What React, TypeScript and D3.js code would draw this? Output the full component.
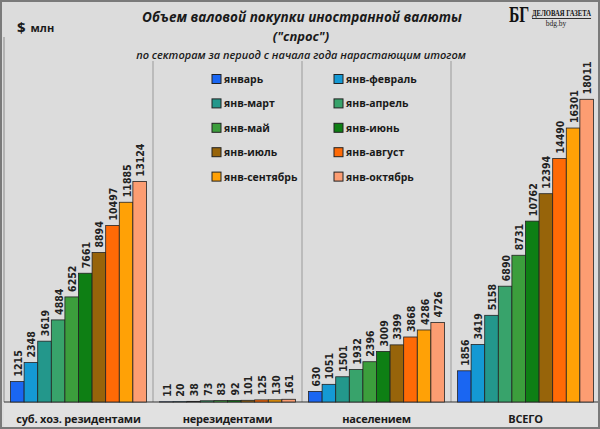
import React from 'react';
import * as d3 from 'd3';

// categories and series
const groups = ['суб. хоз. резидентами', 'нерезидентами', 'населением', 'ВСЕГО'];
const periods = [
  'январь', 'янв-февраль', 'янв-март', 'янв-апрель', 'янв-май',
  'янв-июнь', 'янв-июль', 'янв-август', 'янв-сентябрь', 'янв-октябрь',
];
const residents = [1215, 2348, 3619, 4884, 6252, 7661, 8894, 10497, 11885, 13124];
const nonResidents = [11, 20, 38, 73, 83, 92, 101, 125, 130, 161];
const population = [630, 1051, 1501, 1932, 2396, 3009, 3399, 3868, 4286, 4726];
const total = [1856, 3419, 5158, 6890, 8731, 10762, 12394, 14490, 16301, 18011];
const seriesByGroup = [residents, nonResidents, population, total];

const colors = [
  '#1a66f2', '#1499d4', '#23978b', '#38a36b', '#3c9e3c',
  '#0e7f14', '#97640a', '#ff6a06', '#ffa106', '#fc9d72',
];

const W = 600;
const H = 429;
const baseY = 402;

export default function App() {
  const x = d3.scaleBand<string>().domain(groups).range([4, 600]).padding(0);
  const xi = d3.scaleBand<string>()
    .domain(periods)
    .range([0, x.bandwidth()])
    .paddingInner(0)
    .paddingOuter(0.48);
  const y = d3.scaleLinear().domain([0, 20000]).range([baseY, baseY - 20000 / 59.5]);

  const legendRows = d3.range(5);

  return (
    <svg
      width={W}
      height={H}
      style={{ position: 'absolute', left: 0, top: 0, fontFamily: '"Open Sans", sans-serif' }}
    >
      <rect x={0} y={0} width={W} height={H} fill="#dcdcdc" />
      <rect x={4} y={baseY} width={W - 6} height={H - baseY - 2} fill="#e1e1e1" />

      {/* frame lines */}
      <line x1={4} x2={4} y1={37} y2={baseY} stroke="#8a8a8a" />
      {groups.slice(1).map(g => (
        <line key={g} x1={x(g)!} x2={x(g)!} y1={61} y2={baseY} stroke="#9a9a9a" />
      ))}
      <line x1={4} x2={W - 2} y1={baseY} y2={baseY} stroke="#333" strokeWidth={1.2} />

      {/* bars */}
      {groups.map((g, gi) => (
        <g key={g} transform={`translate(${x(g)},0)`}>
          {seriesByGroup[gi].map((v, i) => {
            const bx = xi(periods[i])!;
            const by = y(v);
            const cx = bx + xi.bandwidth() / 2;
            return (
              <g key={i}>
                <rect
                  x={bx}
                  y={by}
                  width={xi.bandwidth()}
                  height={baseY - by}
                  fill={colors[i]}
                  stroke="#222"
                  strokeWidth={0.8}
                />
                <text
                  transform={`translate(${cx + 0.5},${by - 5}) rotate(-90)`}
                  dominantBaseline="central"
                  fontFamily='"Liberation Sans Narrow", "DejaVu Sans Condensed", sans-serif'
                  fontWeight="bold"
                  fontSize={10.5}
                  fill="#222"
                >
                  {v}
                </text>
              </g>
            );
          })}
          <text
            x={x.bandwidth() / 2}
            y={418}
            textAnchor="middle"
            dominantBaseline="central"
            fontWeight="bold"
            fontSize={11}
            letterSpacing={-0.2}
            fill="#1a1a1a"
          >
            {g}
          </text>
        </g>
      ))}

      {/* legend */}
      {legendRows.map(r =>
        [0, 1].map(c => {
          const i = r * 2 + c;
          const lx = c === 0 ? 212 : 334;
          const ly = 79 + r * 24.4;
          return (
            <g key={i}>
              <rect x={lx} y={ly - 4.5} width={9} height={9} fill={colors[i]} stroke="#222" strokeWidth={1} />
              <text x={lx + 12} y={ly} dominantBaseline="central" fontWeight="bold" fontSize={10.5} fill="#1a1a1a">
                {periods[i]}
              </text>
            </g>
          );
        })
      )}

      {/* titles */}
      <text x={302} y={17} textAnchor="middle" dominantBaseline="central" fontWeight="bold" fontStyle="italic" fontSize={13.5} fill="#1a1a1a">
        Объем валовой покупки иностранной валюты
      </text>
      <text x={301} y={36} textAnchor="middle" dominantBaseline="central" fontWeight="bold" fontStyle="italic" fontSize={13} fill="#1a1a1a">
        ("спрос")
      </text>
      <text x={301} y={54} textAnchor="middle" dominantBaseline="central" fontStyle="italic" fontWeight={600} fontSize={11} fill="#1a1a1a">
        по секторам за период с начала года нарастающим итогом
      </text>
      <text x={17} y={27} dominantBaseline="central" fontWeight="bold" fill="#1a1a1a">
        <tspan fontSize={15}>$</tspan>
        <tspan fontSize={11} dx={5}>млн</tspan>
      </text>

      {/* logo */}
      <text transform="translate(509,14) scale(0.68,1)" dominantBaseline="central" fontFamily='"Liberation Serif", serif' fontWeight="bold" fontSize={23} fill="#111">
        БГ
      </text>
      <text transform="translate(532,13) scale(0.78,1)" dominantBaseline="central" fontFamily='"Liberation Serif", serif' fontWeight="bold" fontSize={8.5} fill="#111" textDecoration="underline">
        ДЕЛОВАЯ ГАЗЕТА
      </text>
      <text x={556} y={23} textAnchor="middle" dominantBaseline="central" fontFamily='"Liberation Serif", serif' fontSize={7.5} fill="#222">
        bdg.by
      </text>

      <rect x={1} y={1} width={W - 2} height={H - 2} fill="none" stroke="#7a7a7a" strokeWidth={2} />
    </svg>
  );
}
